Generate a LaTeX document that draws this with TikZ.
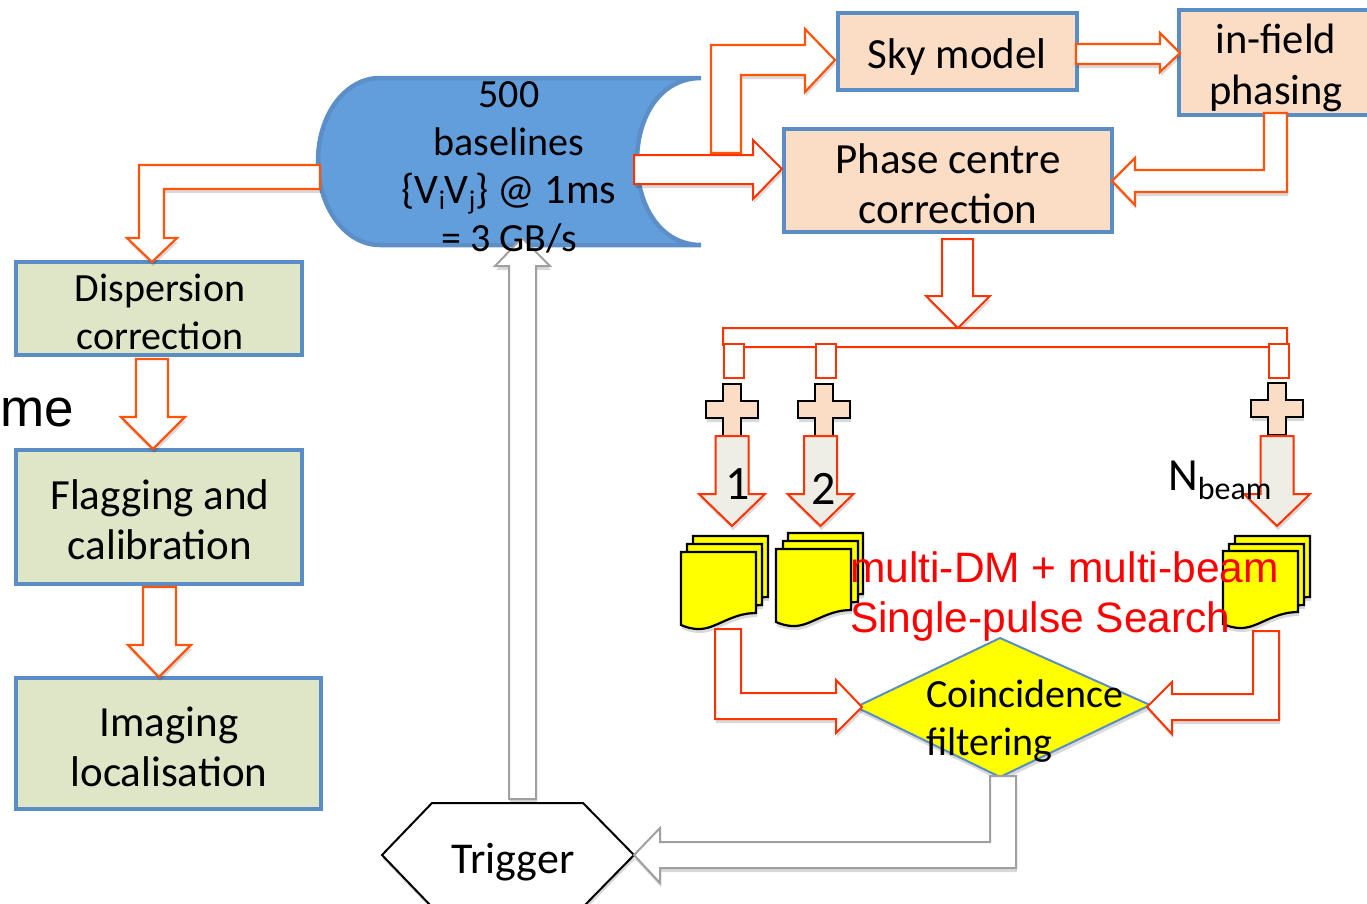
\documentclass[tikz,border=0pt]{standalone}
\usepackage{fontspec}
\setmainfont{Carlito}
\newfontfamily\redfont{Liberation Sans}
\usetikzlibrary{shadows}
\definecolor{BoxPeach}{RGB}{251,221,197}
\definecolor{BoxGreen}{RGB}{223,230,200}
\definecolor{BoxBlue}{RGB}{91,141,197}
\definecolor{CylBlue}{RGB}{98,158,219}
\definecolor{ArrowRed}{RGB}{255,51,0}
\definecolor{ArrowOrange}{RGB}{255,85,10}
\definecolor{ArrowGrey}{RGB}{160,160,160}
\definecolor{StemGrey}{RGB}{238,238,230}
\definecolor{DocYellow}{RGB}{255,255,0}
\definecolor{TextRed}{RGB}{255,0,0}
\newcommand{\lowtext}[1]{\raisebox{-6pt}{\fontsize{27}{27}\selectfont #1}}
\begin{document}
\begin{tikzpicture}[x=1pt,y=-1pt,line join=miter,
softshadow/.style={drop shadow={shadow xshift=1pt,shadow yshift=-4pt,opacity=0.15,fill=black}},
box/.style n args={3}{draw=BoxBlue,line width=4pt,fill=#1,minimum width=#2pt,minimum height=#3pt,inner sep=0pt,rectangle},
blockred/.style={draw=ArrowRed,line width=2pt,fill=white,softshadow},
blockorange/.style={draw=ArrowOrange,line width=2.2pt,fill=white,softshadow},
blockgrey/.style={draw=ArrowGrey,line width=2pt,fill=white,softshadow},
blockstem/.style={draw=ArrowRed,line width=2pt,fill=StemGrey,softshadow},
stub/.style={draw=ArrowRed,line width=2pt,fill=white,minimum width=20pt,minimum height=34pt,inner sep=0pt,rectangle},
label/.style={inner sep=0pt,align=center,font=\fontsize{43}{50}\selectfont},
smalllabel/.style={label,font=\fontsize{40}{48}\selectfont}]
\useasboundingbox (0,0) rectangle (1367,903);
% storage
\draw[draw=BoxBlue!90!CylBlue,line width=4.5pt,fill=CylBlue,line cap=round] (380,78) .. controls (345,78) and (318,115) .. (318,161)
   .. controls (318,207) and (345,245) .. (380,245) -- (701,245)
   .. controls (660,245) and (637,205) .. (637,161)
   .. controls (637,117) and (660,78) .. (701,78) -- cycle;
% boxes
\node[box={BoxPeach}{239}{77}] (nSky) at (957,51.5) {};
\node[box={BoxPeach}{190}{105}] (nField) at (1274,62.5) {};
\node[box={BoxPeach}{328}{103}] (nPhase) at (948,180.5) {};
\node[box={BoxGreen}{286}{93}] (nDisp) at (159,308.5) {};
\node[box={BoxGreen}{286}{134}] (nFlag) at (159,517) {};
\node[box={BoxGreen}{305}{131}] (nImg) at (168.5,743.5) {};
\draw[draw=black,line width=2pt,fill=white,softshadow] (432,803) -- (583,803) -- (634,855) -- (583,907) -- (432,907) -- (382,855) -- cycle;
\draw[draw=BoxBlue,line width=2pt,fill=DocYellow,softshadow] (1000,638) -- (1150,705) -- (1000,777) -- (856,707) -- cycle;
% block arrows on top
\coordinate (tailSky) at (711,153); \coordinate (tipSky) at (835,60);
\draw[blockorange] (tailSky) -- (711,45) -- (805,45) -- (805,29) -- (tipSky) -- (805,92) -- (805,75) -- (741,75) -- (741,153) -- cycle;
\coordinate (tailPhase) at (634,155); \coordinate (tipPhase) at (782,169);
\draw[blockred] (tailPhase) -- (753,155) -- (753,140) -- (tipPhase) -- (753,199) -- (753,184) -- (634,184) -- cycle;
\coordinate (tailField) at (1076,44); \coordinate (tipField) at (1180,53);
\draw[blockorange] (tailField) -- (1160,44) -- (1160,33) -- (tipField) -- (1160,72) -- (1160,64) -- (1076,64) -- cycle;
\coordinate (tailBack) at (1264,113); \coordinate (tipBack) at (1112,181);
\draw[blockorange] (tailBack) -- (1287,113) -- (1287,192) -- (1135,192) -- (1135,205) -- (tipBack) -- (1135,158) -- (1135,170) -- (1264,170) -- cycle;
\coordinate (tailBus) at (942,239); \coordinate (tipBus) at (958,328);
\draw[blockred] (tailBus) -- (973,239) -- (973,296) -- (990,296) -- (tipBus) -- (926,296) -- (942,296) -- cycle;
\coordinate (tailDisp) at (320,165); \coordinate (tipDisp) at (152,262);
\draw[blockorange] (tailDisp) -- (139,165) -- (139,238) -- (127,238) -- (tipDisp) -- (177,238) -- (164,238) -- (164,189) -- (320,189) -- cycle;
\coordinate (tailFlag) at (136,359); \coordinate (tipFlag) at (153,449);
\draw[blockorange] (tailFlag) -- (168,359) -- (168,417) -- (185,417) -- (tipFlag) -- (121,417) -- (136,417) -- cycle;
\coordinate (tailImg) at (143,587); \coordinate (tipImg) at (159,677);
\draw[blockorange] (tailImg) -- (176,587) -- (176,645) -- (191,645) -- (tipImg) -- (128,645) -- (143,645) -- cycle;
\coordinate (tailCyl) at (509,799); \coordinate (tipCyl) at (522,238);
\draw[blockgrey] (tailCyl) -- (509,266) -- (495,266) -- (tipCyl) -- (550,266) -- (536,266) -- (536,799) -- cycle;
\coordinate (tailTrig) at (990,776); \coordinate (tipTrig) at (634,855);
\draw[blockgrey] (tailTrig) -- (1016,776) -- (1016,868) -- (660,868) -- (660,883) -- (tipTrig) -- (660,828) -- (660,842) -- (990,842) -- cycle;
% fan out
\draw[draw=ArrowRed,line width=2pt,fill=white] (723,345) -- (723,328) -- (1287,328) -- (1287,345) -- (1268,347) -- (743,347) -- cycle;
\foreach \x/\n in {733.5/a,825.5/b,1278.5/c} {
   \node[stub] (s\n) at (\x,360.5) {};
}
\foreach \x/\y/\n in {732/410/a,824/410/b,1277/409/c} {
   \draw[draw=black,line width=2.4pt,fill=BoxPeach,softshadow] (\x-9,\y-26) -- (\x+9,\y-26) -- (\x+9,\y-9) -- (\x+26,\y-9) -- (\x+26,\y+8) -- (\x+9,\y+8) -- (\x+9,\y+26) -- (\x-9,\y+26) -- (\x-9,\y+8) -- (\x-26,\y+8) -- (\x-26,\y-9) -- (\x-9,\y-9) -- cycle;
   \coordinate (p\n) at (\x,\y);
}
\foreach \x/\n in {732/a,820.5/b,1277/c} {
   \draw[blockstem] (\x-16.5,436) -- (\x+16.5,436) -- (\x+16.5,494) -- (\x+33,494) -- (\x,526) -- (\x-33,494) -- (\x-16.5,494) -- (\x-16.5,436) -- cycle;
}
% beam files
\foreach \x/\y in {693/536,687/544,681/552,788/533,783/541,776/549,1235/536,1229/544,1223/551} {
   \draw[draw=black,line width=2.2pt,fill=DocYellow,softshadow] (\x,\y) -- (\x+75,\y) -- (\x+75,\y+61) .. controls (\x+50,\y+61) and (\x+35,\y+77) .. (\x+18,\y+77) .. controls (\x+10,\y+77) and (\x+5,\y+75) .. (\x,\y+73) -- cycle;
}
\coordinate (tailLeft) at (715,629); \coordinate (tipLeft) at (862,707);
\draw[blockred] (tailLeft) -- (741,629) -- (741,693) -- (836,693) -- (836,680) -- (tipLeft) -- (836,733) -- (836,719) -- (715,719) -- cycle;
\coordinate (tailRight) at (1253,631); \coordinate (tipRight) at (1147,707);
\draw[blockred] (tailRight) -- (1279,631) -- (1279,720) -- (1172,720) -- (1172,734) -- (tipRight) -- (1172,682) -- (1172,694) -- (1253,694) -- cycle;
% texts
\node[smalllabel] (tCyl) at (509,167) {500\\baselines\\{\fontsize{42}{48}\selectfont\{V\lowtext{i}V\lowtext{j}\} @ 1ms}\\= 3 GB/s};
\node[label] (tSky) at (957,57.5) {Sky model};
\node[label,font=\fontsize{42.5}{51}\selectfont] (tField) at (1276,68) {in-field\\phasing};
\node[label] (tPhase) at (948,184) {Phase centre\\correction};
\node[smalllabel] (tDisp) at (160,312) {Dispersion\\correction};
\node[label] (tFlag) at (160,520) {Flagging and\\calibration};
\node[label] (tImg) at (169,747) {Imaging\\localisation};
\node[smalllabel,anchor=west,align=left] (tCoin) at (926,721) {Coincidence\\filtering};
\node[label,font=\fontsize{44}{50}\selectfont] (tTrig) at (513,862) {Trigger};
\node[label,font=\fontsize{48}{50}\selectfont] (tOne) at (738,484) {1};
\node[label,font=\fontsize{48}{50}\selectfont] (tTwo) at (824,489) {2};
\node[label,anchor=west,font=\fontsize{46}{50}\selectfont] (tBeam) at (1168,480) {N\raisebox{-9pt}{\fontsize{32}{32}\selectfont beam}};
\node[label,anchor=west,font=\fontsize{53}{53}\redfont] (tMe) at (0,412) {me};
\node[label,anchor=west,align=left,text=TextRed,font=\fontsize{42.5}{50}\redfont] (tSearch) at (850,596) {multi-DM + multi-beam\\Single-pulse Search};
\end{tikzpicture}
\end{document}
